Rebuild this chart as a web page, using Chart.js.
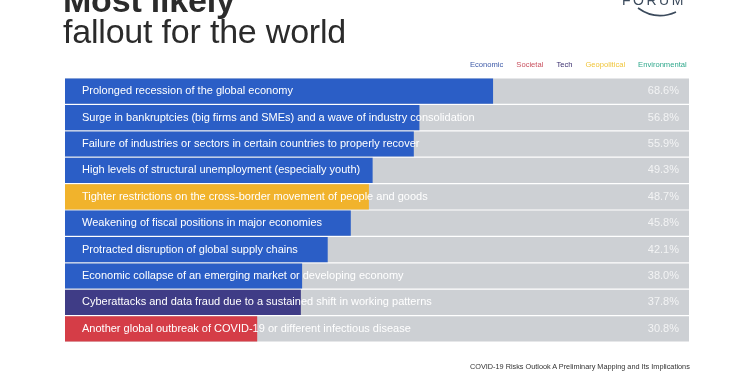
<!DOCTYPE html>
<html>
<head>
<meta charset="utf-8">
<script src="https://cdn.jsdelivr.net/npm/chart.js@4/dist/chart.umd.min.js"></script>
<style>
    html, body { margin: 0; padding: 0; background: #fff; }
    #wrap { position: relative; width: 750px; height: 375px; overflow: hidden; font-family: "Liberation Sans", Arial, sans-serif; }
    #chart { position: absolute; left: 0; top: 0; }
    .title { position: absolute; left: 63px; color: #2b2b2b; font-size: 34px; line-height: 34px; white-space: nowrap; letter-spacing: -0.2px; }
    #t1 { top: -17px; font-weight: bold; }
    #t2 { top: 14px; }
    #legend { position: absolute; left: 470px; top: 60px; font-size: 7.6px; white-space: nowrap; }
    #legend span { margin-right: 13px; }
    #footer { position: absolute; left: 470px; top: 362px; font-size: 7.3px; color: #333; white-space: nowrap; }
    #logo { position: absolute; left: 618px; top: -10px; }
</style>
</head>
<body>
<div id="wrap">
    <canvas id="chart" width="750" height="375"></canvas>
    <div class="title" id="t1">Most likely</div>
    <div class="title" id="t2">fallout for the world</div>
    <div id="legend"></div>
    <svg id="logo" width="70" height="32">
        <text x="4" y="14.5" font-family="Liberation Sans, Arial" font-size="14" letter-spacing="2.5" fill="#3b4a5c">FORUM</text>
        <path d="M 20 18 Q 38 31 58 22" stroke="#3b4a5c" stroke-width="1.6" fill="none"/>
    </svg>
    <div id="footer">COVID-19 Risks Outlook A Preliminary Mapping and Its Implications</div>
</div>
<script>
// Data
const categories = [
    "Prolonged recession of the global economy",
    "Surge in bankruptcies (big firms and SMEs) and a wave of industry consolidation",
    "Failure of industries or sectors in certain countries to properly recover",
    "High levels of structural unemployment (especially youth)",
    "Tighter restrictions on the cross-border movement of people and goods",
    "Weakening of fiscal positions in major economies",
    "Protracted disruption of global supply chains",
    "Economic collapse of an emerging market or developing economy",
    "Cyberattacks and data fraud due to a sustained shift in working patterns",
    "Another global outbreak of COVID-19 or different infectious disease"
];
const values = [68.6, 56.8, 55.9, 49.3, 48.7, 45.8, 42.1, 38.0, 37.8, 30.8];
const riskTypes = ["Economic", "Economic", "Economic", "Economic", "Geopolitical",
    "Economic", "Economic", "Economic", "Tech", "Societal"];
const legendLabels = ["Economic", "Societal", "Tech", "Geopolitical", "Environmental"];
const fullScale = categories.map(() => 100);

const barColors = {
    Economic: "#2b5ec6",
    Societal: "#d53d47",
    Tech: "#3f3c86",
    Geopolitical: "#f1b32c",
    Environmental: "#2aa58a"
};
const legendColors = {
    Economic: "#3d5aa8",
    Societal: "#c9505e",
    Tech: "#3a2e6e",
    Geopolitical: "#f0c53a",
    Environmental: "#2fa88c"
};

// Legend
legendLabels.forEach((l) => {
    const s = document.createElement("span");
    s.textContent = l;
    s.style.color = legendColors[l];
    document.getElementById("legend").appendChild(s);
});

// Text inside bars
const barText = {
    id: "barText",
    afterDatasetsDraw(chart) {
        const ctx = chart.ctx;
        const x = chart.scales.x;
        const y = chart.scales.y;
        ctx.save();
        ctx.font = "11px 'Liberation Sans', Arial, sans-serif";
        ctx.textBaseline = "middle";
        categories.forEach((c, i) => {
            const py = y.getPixelForValue(i);
            ctx.fillStyle = "#ffffff";
            ctx.textAlign = "left";
            ctx.fillText(c, x.getPixelForValue(0) + 17, py);
            ctx.fillStyle = "rgba(255,255,255,0.75)";
            ctx.textAlign = "right";
            ctx.fillText(values[i].toFixed(1) + "%", x.getPixelForValue(100) - 10, py);
        });
        ctx.restore();
    }
};

new Chart(document.getElementById("chart"), {
    type: "bar",
    data: {
        labels: categories,
        datasets: [{
            data: values,
            backgroundColor: riskTypes.map((t) => barColors[t]),
            order: 0
        }, {
            data: fullScale,
            backgroundColor: "#cdd0d4",
            order: 1
        }]
    },
    options: {
        indexAxis: "y",
        responsive: false,
        animation: false,
        events: [],
        layout: { padding: { left: 65, right: 61, top: 78, bottom: 33 } },
        datasets: {
            bar: { grouped: false, categoryPercentage: 1, barPercentage: 0.955 }
        },
        scales: {
            x: { min: 0, max: 100, display: false },
            y: { display: false }
        },
        plugins: {
            legend: { display: false },
            tooltip: { enabled: false }
        }
    },
    plugins: [barText]
});
</script>
</body>
</html>
